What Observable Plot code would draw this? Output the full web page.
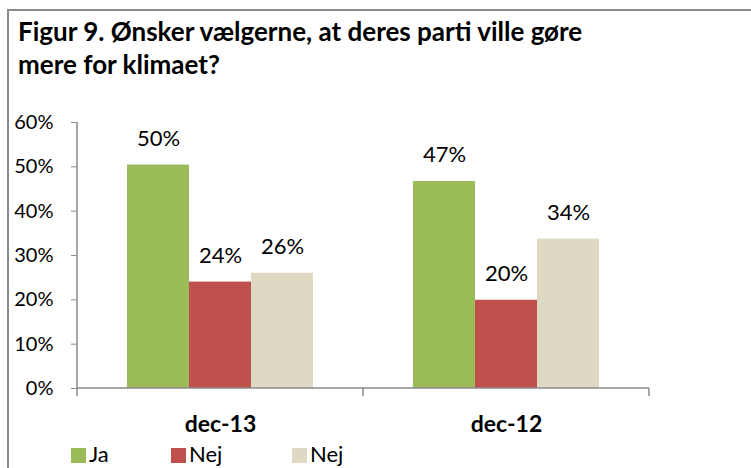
<!DOCTYPE html>
<html><head><meta charset="utf-8">
<script src="https://cdn.jsdelivr.net/npm/d3@7"></script>
<script src="https://cdn.jsdelivr.net/npm/@observablehq/plot@0.6"></script>
<style>
html,body{margin:0;padding:0;background:#fff;}
body{width:751px;height:468px;overflow:hidden;position:relative;font-family:Lato,"Open Sans",sans-serif;color:#000;}
#frame{position:absolute;left:7px;top:9px;width:800px;height:520px;border:2px solid #8a8a8a;box-sizing:border-box;}
#title{position:absolute;left:18px;top:15px;font-weight:700;font-size:26px;line-height:33px;white-space:nowrap;}
#chart{position:absolute;left:0;top:100px;}
#legend{position:absolute;left:71px;top:443px;display:flex;font-size:22px;line-height:22px;white-space:nowrap;}
.item{display:flex;align-items:flex-start;}
.item:nth-child(1){width:100px;}
.item:nth-child(2){width:121px;}
.sw{width:15px;height:15px;margin-top:5px;margin-right:3px;}
</style></head><body>
<div id="frame"></div>
<div id="title"></div>
<div id="chart"></div>
<div id="legend"></div>
<script>
// ---- data ----
const titleLines = ["Figur 9. Ønsker vælgerne, at deres parti ville gøre", "mere for klimaet?"];
const periods = ["dec-13", "dec-12"];
const seriesKeys = ["ja", "nej", "nej2"];
const seriesLabels = ["Ja", "Nej", "Nej"];
const seriesColors = ["#9BBB59", "#C0504D", "#DDD9C3"];
const valuesDec13 = [0.504, 0.240, 0.260];
const valuesDec12 = [0.467, 0.199, 0.337];
const yTicks = [0, 0.1, 0.2, 0.3, 0.4, 0.5, 0.6];

const valuesByPeriod = [valuesDec13, valuesDec12];
const data = periods.flatMap((p, i) => seriesKeys.map((k, j) => ({period: p, key: k, value: valuesByPeriod[i][j]})));
const pct = v => Math.round(v * 100) + "%";

// ---- title ----
document.getElementById("title").innerHTML = titleLines.map(s => s.replace(/&/g,"&amp;")).join("<br>");

// ---- chart ----
const plot = Plot.plot({
  width: 751, height: 340,
  marginLeft: 77, marginRight: 102, marginTop: 22, marginBottom: 52,
  style: {fontFamily: "Lato, sans-serif", background: "transparent", overflow: "visible", color: "black"},
  fx: {domain: periods, padding: 0, label: null},
  x: {domain: seriesKeys, paddingInner: 0, paddingOuter: 0.77, axis: null},
  y: {domain: [0, 0.6], axis: null},
  color: {domain: seriesKeys, range: seriesColors},
  marks: [
    Plot.barY(data, {fx: "period", x: "key", y: "value", fill: "key"}),
    Plot.text(data, {fx: "period", x: "key", y: "value", text: d => pct(d.value), dy: -19, lineAnchor: "bottom", fontSize: 22, fill: "black"}),
    Plot.axisY({ticks: yTicks, tickFormat: pct, tickSize: 6, tickPadding: 18, stroke: "#8a8a8a", fill: "black", fontSize: 20, label: null}),
    Plot.axisFx({anchor: "bottom", tickSize: 0, tickPadding: 27, fontSize: 23, fontWeight: "bold", fill: "black", label: null})
  ]
});
document.getElementById("chart").appendChild(plot);

// axis lines and category boundary ticks, from the plot's own scales
const fx = plot.scale("fx"), y = plot.scale("y");
const svg = d3.select(plot.tagName.toLowerCase() === "svg" ? plot : plot.querySelector("svg"));
const y0 = y.apply(0), yTop = y.apply(yTicks[yTicks.length - 1]);
const edges = periods.map(p => fx.apply(p)).concat([fx.apply(periods[periods.length - 1]) + fx.step]);
const g = svg.append("g").attr("stroke", "#8a8a8a").attr("stroke-width", 1.5).attr("fill", "none");
g.append("line").attr("x1", edges[0]).attr("x2", edges[edges.length - 1]).attr("y1", y0).attr("y2", y0);
g.append("line").attr("x1", edges[0]).attr("x2", edges[0]).attr("y1", yTop).attr("y2", y0);
g.selectAll(".edge").data(edges).join("line").attr("x1", d => d).attr("x2", d => d).attr("y1", y0).attr("y2", y0 + 8);

// ---- legend ----
const legend = d3.select("#legend");
const items = legend.selectAll(".item").data(seriesKeys).join("div").attr("class", "item");
items.append("div").attr("class", "sw").style("background", (d, i) => seriesColors[i]);
items.append("span").text((d, i) => seriesLabels[i]);
</script>
</body></html>
